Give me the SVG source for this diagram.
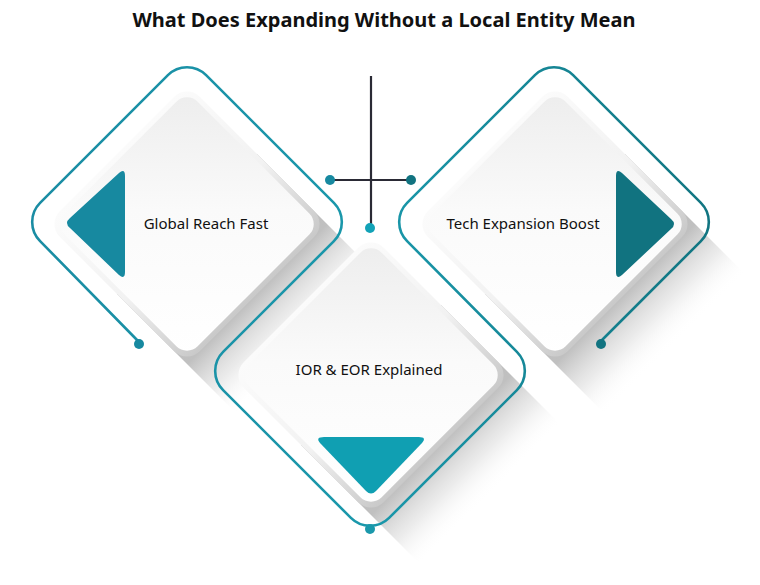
<svg xmlns="http://www.w3.org/2000/svg" width="760" height="585" viewBox="0 0 760 585">
<style>
.lbl{font-family:"Noto Sans","Open Sans","Liberation Sans",sans-serif;font-size:15px;fill:#111;text-anchor:middle}
.title{font-family:"Noto Sans","Open Sans","Liberation Sans",sans-serif;font-size:20px;font-weight:bold;fill:#111;text-anchor:middle}
.dark{stroke:#2a2a35;stroke-width:2.2;fill:none}
</style>
<defs>
<linearGradient id="rim" x1="0" y1="0" x2="1" y2="0"><stop offset="0" stop-color="#fbfbfb"/><stop offset="0.55" stop-color="#f2f2f2"/><stop offset="1" stop-color="#c9c9c9"/></linearGradient>
<linearGradient id="face" x1="0" y1="0" x2="1" y2="1"><stop offset="0" stop-color="#ededed"/><stop offset="0.45" stop-color="#fafafa"/><stop offset="1" stop-color="#ffffff"/></linearGradient>
<linearGradient id="shadow" x1="0" y1="0" x2="1" y2="0"><stop offset="0" stop-color="#aaa" stop-opacity="0.8"/><stop offset="0.586" stop-color="#b5b5b5" stop-opacity="0.85"/><stop offset="0.8" stop-color="#d8d8d8" stop-opacity="0.5"/><stop offset="1" stop-color="#fff" stop-opacity="0"/></linearGradient>
<linearGradient id="outline" gradientUnits="userSpaceOnUse" x1="20" y1="0" x2="720" y2="0"><stop offset="0" stop-color="#1a8ca3"/><stop offset="0.5" stop-color="#1a98ab"/><stop offset="1" stop-color="#117480"/></linearGradient>
<g id="card">
<rect x="0" y="-99" width="169" height="198" fill="url(#shadow)"/>
<rect x="-99" y="-99" width="198" height="198" rx="18" fill="url(#rim)"/>
<rect x="-94" y="-94" width="188" height="188" rx="15" fill="url(#face)"/>
</g>
</defs>
<rect width="760" height="585" fill="#fff"/>
<text class="title" x="384" y="27">What Does Expanding Without a Local Entity Mean</text>
<g id="node-global">
<use href="#card" transform="translate(187,224) rotate(45)"/>
<path d="M125,176 L125,272 Q125,280 119,275 L70,228 Q64,223 70,218 L119,173 Q125,168 125,176 Z" fill="#1789a0"/>
<text class="lbl" x="206" y="229">Global Reach Fast</text>
</g>
<g id="node-tech">
<use href="#card" transform="translate(555,224) rotate(45)"/>
<path d="M616,176 L616,272 Q616,280 622,275 L671,229 Q677,224 671,219 L622,173 Q616,168 616,176 Z" fill="#117380"/>
<text class="lbl" x="523" y="229">Tech Expansion Boost</text>
</g>
<g id="node-ior">
<use href="#card" transform="translate(371,375) rotate(45)"/>
<path d="M324,437 L419,437 Q427,437 422,443 L376,491 Q371,496 366,491 L320,443 Q315,437 324,437 Z" fill="#109fb2"/>
<text class="lbl" x="369" y="375">IOR &amp; EOR Explained</text>
</g>
<g id="frame">
<path d="M139,342 L40.1,241.1 A27,27 0 0 1 40.1,202.9 L167.9,75.1 A27,27 0 0 1 206.1,75.1 L333.9,202.9 A27,27 0 0 1 333.9,241.1 L223.1,351.9 A27,27 0 0 0 223.1,390.1 L350.9,517.9 A27,27 0 0 0 389.1,517.9 L516.9,390.1 A27,27 0 0 0 516.9,351.9 L407.1,241.1 A27,27 0 0 1 407.1,202.9 L534.9,75.1 A27,27 0 0 1 573.1,75.1 L700.9,202.9 A27,27 0 0 1 700.9,241.1 L600,342" fill="none" stroke="url(#outline)" stroke-width="2.6"/>
<circle cx="139" cy="344" r="5" fill="#1789a0"/>
<circle cx="601" cy="344" r="5" fill="#117380"/>
<circle cx="370" cy="529" r="5" fill="#1a98ab"/>
</g>
<g id="connectors">
<line class="dark" x1="371" y1="76" x2="371" y2="226"/>
<line class="dark" x1="330" y1="180" x2="411" y2="180"/>
<circle cx="330" cy="180" r="5" fill="#1789a0"/>
<circle cx="411" cy="180" r="5" fill="#117380"/>
<circle cx="370" cy="228" r="5" fill="#12a2b7"/>
</g>
</svg>
